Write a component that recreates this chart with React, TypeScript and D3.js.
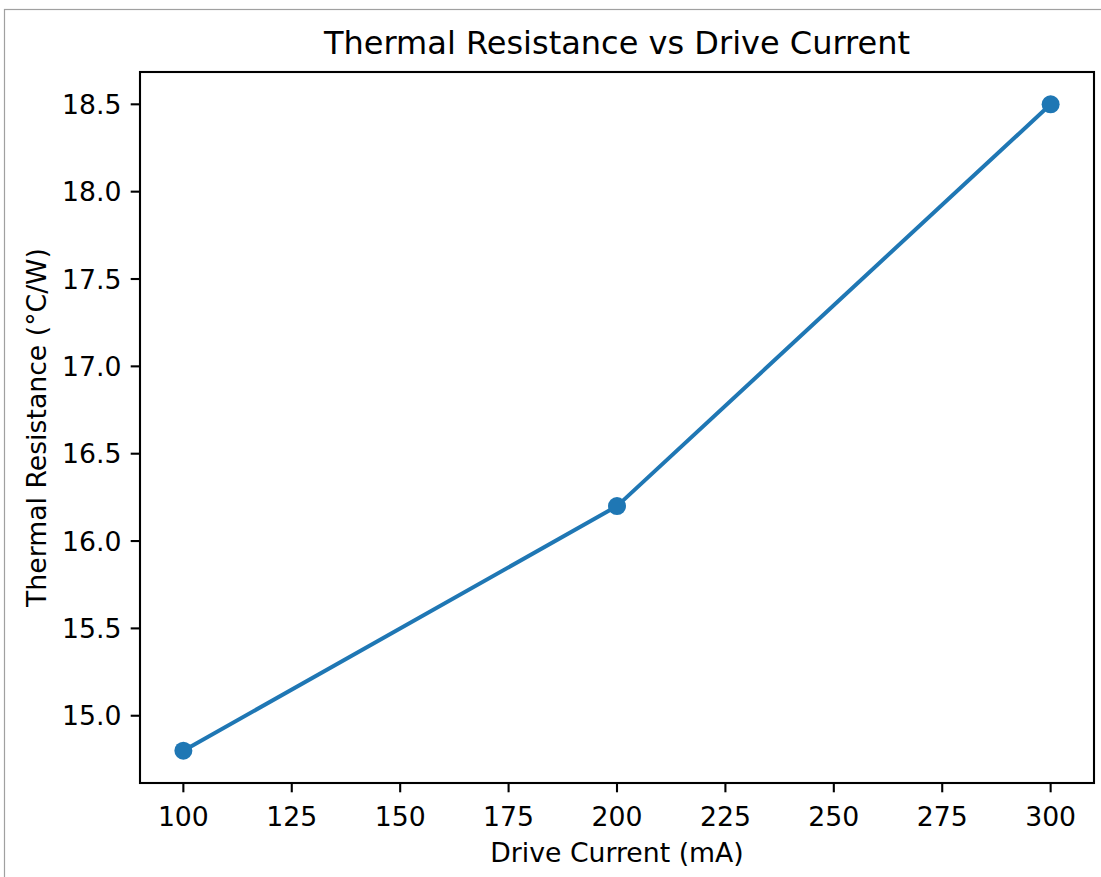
import React from "react";
import * as d3 from "d3";

// Drive current (mA) and measured thermal resistance (°C/W)
const currents = [100, 200, 300];
const resistances = [14.8, 16.2, 18.5];

const xTicks = [100, 125, 150, 175, 200, 225, 250, 275, 300];
const yTicks = [15.0, 15.5, 16.0, 16.5, 17.0, 17.5, 18.0, 18.5];

const titleText = "Thermal Resistance vs Drive Current";
const xLabelText = "Drive Current (mA)";
const yLabelText = "Thermal Resistance (°C/W)";

const W = 1101;
const H = 877;
const plot = { left: 140, top: 72, right: 1094, bottom: 783 };
const FONT = "DejaVu Sans, Liberation Sans, sans-serif";
const tickFont = 26.7;
const titleFont = 32;
const color = "#1f77b4";

export default function App() {
  const xPad = (d3.max(currents)! - d3.min(currents)!) * 0.05;
  const yPad = (d3.max(resistances)! - d3.min(resistances)!) * 0.05;
  const x = d3
    .scaleLinear()
    .domain([d3.min(currents)! - xPad, d3.max(currents)! + xPad])
    .range([plot.left, plot.right]);
  const y = d3
    .scaleLinear()
    .domain([d3.min(resistances)! - yPad, d3.max(resistances)! + yPad])
    .range([plot.bottom, plot.top]);

  const pts = currents.map((c, i) => [c, resistances[i]] as [number, number]);
  const line = d3
    .line<[number, number]>()
    .x((d) => x(d[0]))
    .y((d) => y(d[1]));

  const tickLen = 9.3;
  const capHalf = tickFont * 0.3645;

  return (
    <svg
      width={W}
      height={H}
      style={{ position: "absolute", left: 0, top: 0, display: "block" }}
      fontFamily={FONT}
    >
      <rect x={0} y={0} width={W} height={H} fill="#ffffff" />
      {/* outer frame */}
      <rect x={4.5} y={9.5} width={W + 20} height={H + 20} fill="none" stroke="#a0a0a0" strokeWidth={1.2} />

      {/* title */}
      <text x={(plot.left + plot.right) / 2} y={54} textAnchor="middle" fontSize={titleFont} fill="#000">
        {titleText}
      </text>

      {/* y ticks */}
      {yTicks.map((t) => (
        <g key={"y" + t}>
          <line x1={plot.left - tickLen} x2={plot.left} y1={y(t)} y2={y(t)} stroke="#000" strokeWidth={2.1} />
          <text x={plot.left - tickLen - 9.3} y={y(t) + capHalf} textAnchor="end" fontSize={tickFont} fill="#000">
            {t.toFixed(1)}
          </text>
        </g>
      ))}

      {/* x ticks */}
      {xTicks.map((t) => (
        <g key={"x" + t}>
          <line x1={x(t)} x2={x(t)} y1={plot.bottom} y2={plot.bottom + tickLen} stroke="#000" strokeWidth={2.1} />
          <text x={x(t)} y={826} textAnchor="middle" fontSize={tickFont} fill="#000">
            {t}
          </text>
        </g>
      ))}

      {/* axis labels */}
      <text x={(plot.left + plot.right) / 2} y={862} textAnchor="middle" fontSize={tickFont} fill="#000">
        {xLabelText}
      </text>
      <text
        transform={`translate(46, ${(plot.top + plot.bottom) / 2}) rotate(-90)`}
        textAnchor="middle"
        fontSize={tickFont}
        fill="#000"
      >
        {yLabelText}
      </text>

      {/* series */}
      <path d={line(pts) ?? ""} fill="none" stroke={color} strokeWidth={4} strokeLinejoin="round" strokeLinecap="round" />
      {pts.map((d, i) => (
        <circle key={i} cx={x(d[0])} cy={y(d[1])} r={9} fill={color} />
      ))}

      {/* axes frame */}
      <rect
        x={plot.left}
        y={plot.top}
        width={plot.right - plot.left}
        height={plot.bottom - plot.top}
        fill="none"
        stroke="#000"
        strokeWidth={2.1}
      />
    </svg>
  );
}
